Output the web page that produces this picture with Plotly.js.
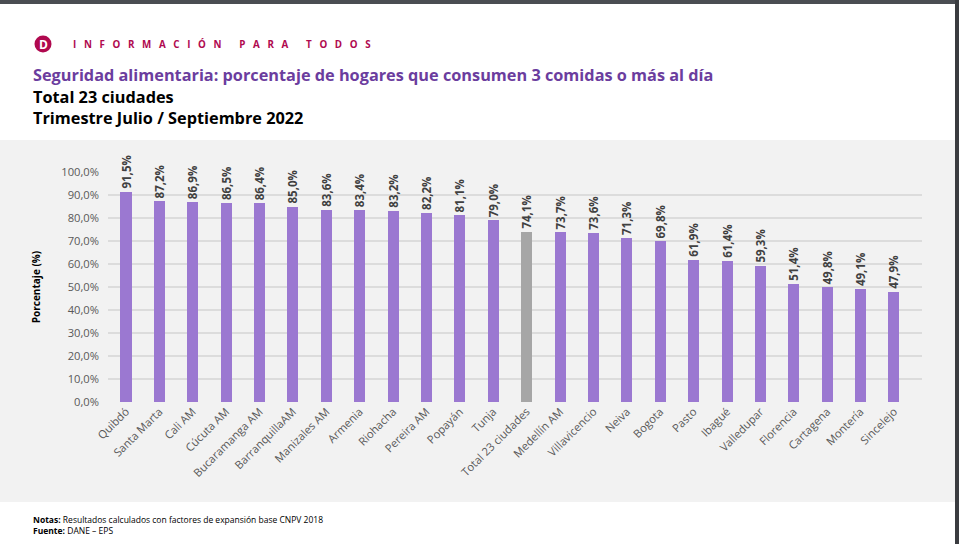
<!DOCTYPE html>
<html>
<head>
<meta charset="utf-8">
<script src="https://cdn.plot.ly/plotly-3.0.1.min.js"></script>
<style>html,body{margin:0;padding:0;background:#fff;}#chart{width:959px;height:544px;}</style>
</head>
<body>
<div id="chart"></div>
<script>
const ciudades = ["Quibdó","Santa Marta","Cali AM","Cúcuta AM","Bucaramanga AM","BarranquillaAM","Manizales AM","Armenia","Riohacha","Pereira AM","Popayán","Tunja","Total 23 ciudades","Medellín AM","Villavicencio","Neiva","Bogota","Pasto","Ibagué","Valledupar","Florencia","Cartagena","Montería","Sincelejo"];
const porcentajes = [91.5,87.2,86.9,86.5,86.4,85.0,83.6,83.4,83.2,82.2,81.1,79.0,74.1,73.7,73.6,71.3,69.8,61.9,61.4,59.3,51.4,49.8,49.1,47.9];
const yTicks = [0,10,20,30,40,50,60,70,80,90,100];
const yTickLabels = yTicks.map(v => v.toFixed(1).replace('.', ',') + '%');

const W = 959, H = 544;
const M = {l:108, r:37, t:172, b:142};
const PW = W - M.l - M.r, PH = H - M.t - M.b;
const px = x => (x - M.l) / PW;
const py = y => (H - M.b - y) / PH;

const colors = ciudades.map(c => c.startsWith("Total") ? "#a6a6a6" : "#9b78d1");
const labels = porcentajes.map(v => v.toFixed(1).replace('.', ',') + '%');
const FONT = "Open Sans, Noto Sans, sans-serif";

const trace = {
  type: 'bar',
  x: ciudades.map((c,i)=>i),
  y: porcentajes,
  marker: {color: colors},
  width: 0.33,
  text: labels,
  textposition: 'outside',
  textangle: -90,
  constraintext: 'none',
  cliponaxis: false,
  textfont: {family: FONT, size: 11.5, color: '#404040', weight: 'bold'},
  hoverinfo: 'none'
};

const shapes = [
  {type:'rect', xref:'paper', yref:'paper', x0:px(0), x1:px(955), y0:py(502), y1:py(140), fillcolor:'#f2f2f2', line:{width:0}, layer:'below'},
  {type:'rect', xref:'paper', yref:'paper', x0:px(0), x1:px(959), y0:py(4), y1:py(0), fillcolor:'#4a4d52', line:{width:0}},
  {type:'rect', xref:'paper', yref:'paper', x0:px(955), x1:px(959), y0:py(544), y1:py(0), fillcolor:'#3a3c40', line:{width:0}},
  {type:'circle', xref:'paper', yref:'paper', xsizemode:'pixel', ysizemode:'pixel', xanchor:px(43), yanchor:py(44), x0:-8.5, x1:8.5, y0:-8.5, y1:8.5, fillcolor:'#b0094f', line:{width:0}}
];

const ann = (x, y, text, size, color, opts={}) => Object.assign({
  xref:'paper', yref:'paper', x:px(x), y:py(y), text, showarrow:false,
  xanchor:'left', yanchor:'middle', font:{family:FONT, size, color}
}, opts);

const NB = '\u00a0';
const spaced = 'INFORMACIÓN PARA TODOS'.split('').map(ch => ch === ' ' ? NB : ch).join(NB + NB + NB);

const annotations = [
  ann(43, 44.5, '<b>D</b>', 12, '#ffffff', {xanchor:'center'}),
  ann(71, 44, '<b>' + spaced + '</b>', 9.8, '#b0094f'),
  ann(31, 75, '<b>Seguridad alimentaria: porcentaje de hogares que consumen 3 comidas o más al día</b>', 16.3, '#6b3d9e'),
  ann(31, 97, '<b>Total 23 ciudades</b>', 16.3, '#000000'),
  ann(31, 118, '<b>Trimestre Julio / Septiembre 2022</b>', 16.3, '#000000'),
  ann(31, 519, '<b>Notas:</b> Resultados calculados con factores de expansión base CNPV 2018', 8.5, '#000000'),
  ann(31, 530, '<b>Fuente:</b> DANE – EPS', 8.5, '#000000')
];

const layout = {
  width: W, height: H,
  margin: M,
  paper_bgcolor: '#ffffff',
  plot_bgcolor: 'rgba(0,0,0,0)',
  showlegend: false,
  bargap: 0,
  font: {family: FONT},
  xaxis: {
    range: [-0.539, 23.84],
    tickmode: 'array',
    tickvals: ciudades.map((c,i)=>i),
    ticktext: ciudades,
    tickangle: -45,
    tickfont: {family: FONT, size: 11.2, color: '#595959'},
    showgrid: false, zeroline: false, showline: false, ticks: ''
  },
  yaxis: {
    range: [0, 100],
    tickmode: 'array',
    tickvals: yTicks,
    ticktext: yTickLabels,
    tickfont: {family: FONT, size: 11.2, color: '#595959'},
    gridcolor: '#dcdcdc', gridwidth: 1.5,
    zeroline: false, showline: false, ticks: '',
    ticklabelstandoff: 8,
    title: {text: '<b>Porcentaje (%)</b>', font: {family: FONT, size: 10, color: '#000000'}, standoff: 18}
  },
  shapes, annotations
};

Plotly.newPlot('chart', [trace], layout, {displayModeBar: false, staticPlot: true});
</script>
</body>
</html>
